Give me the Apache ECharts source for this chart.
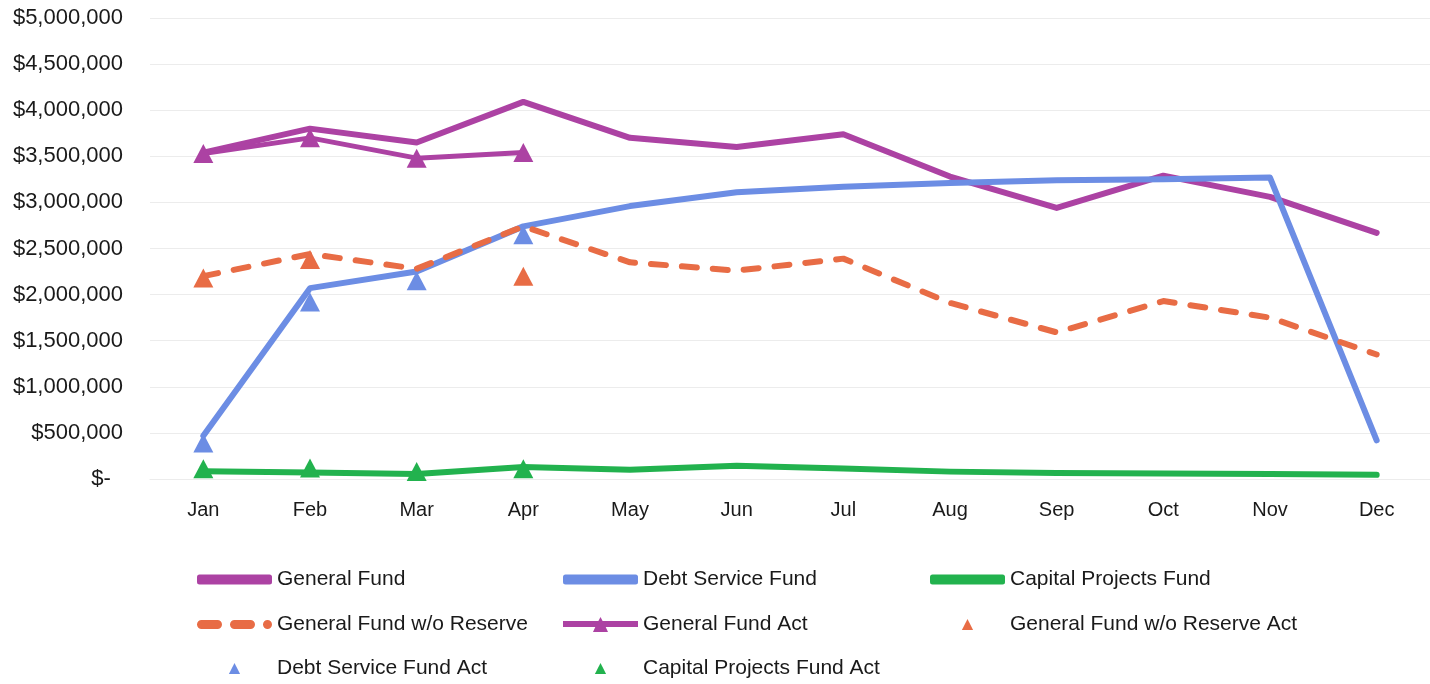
<!DOCTYPE html>
<html>
<head>
<meta charset="utf-8">
<title>Fund Balances</title>
<script src="https://cdn.jsdelivr.net/npm/echarts@6/dist/echarts.min.js"></script>
<style>
  html, body { margin: 0; padding: 0; background: #ffffff; }
  #chart { width: 1430px; height: 684px; }
</style>
</head>
<body>
<div id="chart"></div>
<script>
// months on x axis
const months = ['Jan', 'Feb', 'Mar', 'Apr', 'May', 'Jun', 'Jul', 'Aug', 'Sep', 'Oct', 'Nov', 'Dec']

// budget lines
const generalFund = [3540000, 3800000, 3650000, 4090000, 3700000, 3600000, 3740000, 3280000, 2940000, 3290000, 3060000, 2670000]
const debtServiceFund = [470000, 2070000, 2250000, 2740000, 2960000, 3110000, 3170000, 3210000, 3240000, 3250000, 3270000, 420000]
const capitalProjectsFund = [85000, 70000, 55000, 130000, 100000, 145000, 115000, 80000, 65000, 60000, 55000, 45000]
const generalFundNoReserve = [2200000, 2440000, 2280000, 2740000, 2350000, 2260000, 2390000, 1910000, 1590000, 1930000, 1750000, 1350000]

// actuals so far
const generalFundAct = [3530000, 3700000, 3480000, 3540000, null, null, null, null, null, null, null, null]
const generalFundNoReserveAct = [2180000, 2380000, null, 2200000, null, null, null, null, null, null, null, null]
const debtServiceFundAct = [390000, 1920000, 2150000, 2650000, null, null, null, null, null, null, null, null]
const capitalProjectsFundAct = [110000, 120000, 80000, 110000, null, null, null, null, null, null, null, null]

// y axis ticks
const yMin = 0
const yMax = 5000000
const yStep = 500000

const purple = '#AC42A3'
const blue = '#6C8DE4'
const green = '#22B24E'
const orange = '#E86C45'

const chart = echarts.init(document.getElementById('chart'))

const fmtMoney = (v) => {
    if (v === 0) return '$-\u00a0\u00a0'
    return '$' + v.toLocaleString('en-US')
}

// legend icons drawn like the spreadsheet ones
const barIcon = 'roundRect'
const dashIcon = 'path://M4.5,0 H20.5 A4.5,4.5 0 0 1 20.5,9 H4.5 A4.5,4.5 0 0 1 4.5,0 Z M37.5,0 H53.5 A4.5,4.5 0 0 1 53.5,9 H37.5 A4.5,4.5 0 0 1 37.5,0 Z M70.5,0 A4.5,4.5 0 0 1 70.5,9 A4.5,4.5 0 0 1 70.5,0 Z'
const barTriIcon = 'path://M0,4 H35.4 L37.5,0 L39.6,4 H75 V10 H42.7 L45,15 H30 L32.3,10 H0 Z'

// one legend box per entry so the three columns line up like the original
const legendSpot = (name, left, top, icon, h) => ({
    data: [icon ? { name: name, icon: icon } : name],
    left: left,
    top: top,
    padding: 0,
    itemWidth: 75,
    itemHeight: h || 10,
    textStyle: {
        color: '#1a1a1a',
        fontSize: 21,
        fontFamily: '"Liberation Sans", Arial, sans-serif'
    },
    selectedMode: false
})

const option = {
    animation: false,
    backgroundColor: '#ffffff',
    grid: {
        left: 150,
        top: 18,
        width: 1309,
        height: 461
    },
    legend: [
        legendSpot('General Fund', 197, 569, barIcon),
        legendSpot('Debt Service Fund', 563, 569, barIcon),
        legendSpot('Capital Projects Fund', 930, 569, barIcon),
        legendSpot('General Fund w/o Reserve', 197, 614, dashIcon),
        legendSpot('General Fund Act', 563, 614, barTriIcon, 15),
        legendSpot('General Fund w/o Reserve Act', 930, 614, null, 14),
        legendSpot('Debt Service Fund Act', 197, 658, null, 14),
        legendSpot('Capital Projects Fund Act', 563, 658, null, 14)
    ],
    xAxis: {
        type: 'category',
        data: months,
        boundaryGap: true,
        axisLine: { show: true, lineStyle: { color: '#ececec', width: 1 } },
        axisTick: { show: false },
        axisLabel: {
            margin: 21,
            color: '#1a1a1a',
            fontSize: 20,
            fontFamily: '"Liberation Sans", Arial, sans-serif'
        }
    },
    yAxis: {
        type: 'value',
        min: yMin,
        max: yMax,
        interval: yStep,
        axisLine: { show: false },
        axisTick: { show: false },
        splitLine: { lineStyle: { color: '#ececec', width: 1 } },
        axisLabel: {
            margin: 27,
            color: '#1a1a1a',
            fontSize: 22,
            fontFamily: '"Liberation Sans", Arial, sans-serif',
            formatter: fmtMoney
        }
    },
    series: [
        {
            name: 'General Fund',
            type: 'line',
            data: generalFund,
            symbol: 'none',
            color: purple,
            lineStyle: { width: 6, color: purple, cap: 'round', join: 'round' }
        },
        {
            name: 'Debt Service Fund',
            type: 'line',
            data: debtServiceFund,
            symbol: 'none',
            color: blue,
            lineStyle: { width: 6, color: blue, cap: 'round', join: 'round' }
        },
        {
            name: 'Capital Projects Fund',
            type: 'line',
            data: capitalProjectsFund,
            symbol: 'none',
            color: green,
            lineStyle: { width: 6, color: green, cap: 'round', join: 'round' }
        },
        {
            name: 'General Fund w/o Reserve',
            type: 'line',
            data: generalFundNoReserve,
            symbol: 'none',
            color: orange,
            lineStyle: { width: 6, color: orange, type: [15, 16], cap: 'round', join: 'round' }
        },
        {
            name: 'General Fund Act',
            type: 'line',
            data: generalFundAct,
            symbol: 'triangle',
            symbolSize: [20, 19],
            color: purple,
            itemStyle: { color: purple },
            lineStyle: { width: 5, color: purple, join: 'round' }
        },
        {
            name: 'General Fund w/o Reserve Act',
            type: 'line',
            data: generalFundNoReserveAct,
            symbol: 'triangle',
            symbolSize: [20, 19],
            color: orange,
            itemStyle: { color: orange },
            lineStyle: { width: 0, opacity: 0 }
        },
        {
            name: 'Debt Service Fund Act',
            type: 'line',
            data: debtServiceFundAct,
            symbol: 'triangle',
            symbolSize: [20, 19],
            color: blue,
            itemStyle: { color: blue },
            lineStyle: { width: 0, opacity: 0 }
        },
        {
            name: 'Capital Projects Fund Act',
            type: 'line',
            data: capitalProjectsFundAct,
            symbol: 'triangle',
            symbolSize: [20, 19],
            color: green,
            itemStyle: { color: green },
            lineStyle: { width: 0, opacity: 0 }
        }
    ]
}

chart.setOption(option)
window.addEventListener('resize', () => {
    chart.resize()
})
</script>
</body>
</html>
